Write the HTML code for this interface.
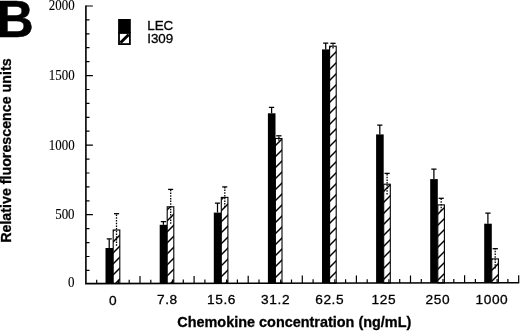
<!DOCTYPE html>
<html><head><meta charset="utf-8"><title>B</title>
<style>html,body{margin:0;padding:0;background:#fff;overflow:hidden}svg{display:block}text{fill:#000;stroke:#000;stroke-width:.3px}.t{stroke-width:.12px}.s{font-family:"Liberation Sans",sans-serif}.t{font-family:"Liberation Serif",serif}</style></head><body>
<svg width="520" height="331" viewBox="0 0 520 331">
<defs><pattern id="h" patternUnits="userSpaceOnUse" width="11" height="11" patternTransform="translate(3,0)"><rect width="11" height="11" fill="#fff"/><path d="M-2,13 L13,-2 M-2,2 L2,-2 M9,13 L13,9" stroke="#000" stroke-width="1.45"/></pattern></defs>
<rect width="520" height="331" fill="#fff" stroke="none"/>
<text class="s" x="-3.5" y="36.9" font-size="51.5" font-weight="bold" style="stroke-width:.5px">B</text>
<text class="s" transform="translate(11.1,242.8) rotate(-90)" font-size="14.2" font-weight="bold" textLength="184.4" lengthAdjust="spacingAndGlyphs">Relative fluorescence units</text>
<text class="s" x="177.3" y="326.8" font-size="14.4" font-weight="bold" textLength="234" lengthAdjust="spacingAndGlyphs">Chemokine concentration (ng/mL)</text>
<path d="M109.2,248.0 V238.4 M106.7,238.8 H111.8" stroke="#000" stroke-width="1.25" fill="none"/>
<rect x="105.5" y="248.0" width="7.6" height="35.5" fill="#000"/>
<rect x="113.2" y="230.0" width="6.6" height="53.5" fill="url(#h)" stroke="#000" stroke-width="1.1"/>
<path d="M116.5,245.8 V213.3" stroke="#000" stroke-width="1.3" stroke-dasharray="1.5 1.2" fill="none"/>
<path d="M114.0,213.7 H119.1" stroke="#000" stroke-width="1.3" fill="none"/>
<path d="M163.4,224.8 V221.3 M160.8,221.7 H166.0" stroke="#000" stroke-width="1.25" fill="none"/>
<rect x="159.7" y="224.8" width="7.6" height="58.6" fill="#000"/>
<rect x="167.2" y="206.8" width="6.6" height="76.6" fill="url(#h)" stroke="#000" stroke-width="1.1"/>
<path d="M170.7,223.7 V189.0" stroke="#000" stroke-width="1.3" stroke-dasharray="1.5 1.2" fill="none"/>
<path d="M168.1,189.4 H173.2" stroke="#000" stroke-width="1.3" fill="none"/>
<path d="M217.5,212.6 V202.7 M214.9,203.1 H220.1" stroke="#000" stroke-width="1.25" fill="none"/>
<rect x="213.8" y="212.6" width="7.6" height="70.7" fill="#000"/>
<rect x="221.3" y="197.4" width="6.6" height="85.9" fill="url(#h)" stroke="#000" stroke-width="1.1"/>
<path d="M224.8,207.3 V186.5" stroke="#000" stroke-width="1.3" stroke-dasharray="1.5 1.2" fill="none"/>
<path d="M222.2,186.9 H227.3" stroke="#000" stroke-width="1.3" fill="none"/>
<path d="M271.6,113.3 V106.9 M268.9,107.3 H274.2" stroke="#000" stroke-width="1.25" fill="none"/>
<rect x="267.9" y="113.3" width="7.6" height="169.9" fill="#000"/>
<rect x="275.4" y="138.5" width="6.6" height="144.7" fill="url(#h)" stroke="#000" stroke-width="1.1"/>
<path d="M278.9,140.7 V135.4" stroke="#000" stroke-width="1.3" stroke-dasharray="1.5 1.2" fill="none"/>
<path d="M276.2,135.8 H281.5" stroke="#000" stroke-width="1.3" fill="none"/>
<path d="M325.7,49.4 V42.6 M323.1,43.0 H328.3" stroke="#000" stroke-width="1.25" fill="none"/>
<rect x="322.0" y="49.4" width="7.6" height="233.7" fill="#000"/>
<rect x="329.6" y="46.2" width="6.6" height="236.9" fill="url(#h)" stroke="#000" stroke-width="1.1"/>
<path d="M333.0,48.5 V42.9" stroke="#000" stroke-width="1.3" stroke-dasharray="1.5 1.2" fill="none"/>
<path d="M330.4,43.3 H335.6" stroke="#000" stroke-width="1.3" fill="none"/>
<path d="M379.8,134.4 V124.8 M377.2,125.2 H382.4" stroke="#000" stroke-width="1.25" fill="none"/>
<rect x="376.1" y="134.4" width="7.6" height="148.6" fill="#000"/>
<rect x="383.7" y="184.2" width="6.6" height="98.8" fill="url(#h)" stroke="#000" stroke-width="1.1"/>
<path d="M387.1,194.4 V173.0" stroke="#000" stroke-width="1.3" stroke-dasharray="1.5 1.2" fill="none"/>
<path d="M384.5,173.4 H389.7" stroke="#000" stroke-width="1.3" fill="none"/>
<path d="M433.9,179.1 V168.7 M431.3,169.1 H436.5" stroke="#000" stroke-width="1.25" fill="none"/>
<rect x="430.2" y="179.1" width="7.6" height="103.7" fill="#000"/>
<rect x="437.8" y="204.9" width="6.6" height="78.0" fill="url(#h)" stroke="#000" stroke-width="1.1"/>
<path d="M441.2,210.9 V197.9" stroke="#000" stroke-width="1.3" stroke-dasharray="1.5 1.2" fill="none"/>
<path d="M438.6,198.3 H443.8" stroke="#000" stroke-width="1.3" fill="none"/>
<path d="M487.9,223.7 V212.7 M485.3,213.1 H490.6" stroke="#000" stroke-width="1.25" fill="none"/>
<rect x="484.2" y="223.7" width="7.6" height="59.1" fill="#000"/>
<rect x="491.8" y="258.9" width="6.6" height="23.8" fill="url(#h)" stroke="#000" stroke-width="1.1"/>
<path d="M495.2,268.5 V248.3" stroke="#000" stroke-width="1.3" stroke-dasharray="1.5 1.2" fill="none"/>
<path d="M492.6,248.7 H497.9" stroke="#000" stroke-width="1.3" fill="none"/>
<path d="M85.9,5.4 V284.4 M85.2,283.6 L519.2,282.7" stroke="#000" stroke-width="1.6" fill="none"/>
<path d="M85.9,270.4 h3.6 M85.9,256.5 h3.6 M85.9,242.6 h3.6 M85.9,228.6 h3.6 M85.9,214.7 h7 M85.9,200.8 h3.6 M85.9,186.9 h3.6 M85.9,173.0 h3.6 M85.9,159.1 h3.6 M85.9,145.2 h7 M85.9,131.2 h3.6 M85.9,117.3 h3.6 M85.9,103.4 h3.6 M85.9,89.5 h3.6 M85.9,75.6 h7 M85.9,61.7 h3.6 M85.9,47.7 h3.6 M85.9,33.8 h3.6 M85.9,19.9 h3.6 M85.9,6.0 h7 M96.7,283.6 v-3.8 M107.5,283.6 v-3.8 M118.4,283.5 v-3.8 M129.2,283.5 v-3.8 M140.0,283.5 v-7.5 M150.8,283.5 v-3.8 M161.6,283.4 v-3.8 M172.5,283.4 v-3.8 M183.3,283.4 v-3.8 M194.1,283.4 v-7.5 M204.9,283.4 v-3.8 M215.7,283.3 v-3.8 M226.6,283.3 v-3.8 M237.4,283.3 v-3.8 M248.2,283.3 v-7.5 M259.0,283.2 v-3.8 M269.8,283.2 v-3.8 M280.7,283.2 v-3.8 M291.5,283.2 v-3.8 M302.3,283.1 v-7.5 M313.1,283.1 v-3.8 M323.9,283.1 v-3.8 M334.8,283.1 v-3.8 M345.6,283.1 v-3.8 M356.4,283.0 v-7.5 M367.2,283.0 v-3.8 M378.0,283.0 v-3.8 M388.9,283.0 v-3.8 M399.7,282.9 v-3.8 M410.5,282.9 v-7.5 M421.3,282.9 v-3.8 M432.1,282.9 v-3.8 M443.0,282.9 v-3.8 M453.8,282.8 v-3.8 M464.6,282.8 v-7.5 M475.4,282.8 v-3.8 M486.2,282.8 v-3.8 M497.1,282.7 v-3.8 M507.9,282.7 v-3.8 M518.7,282.7 v-7.5 " stroke="#000" stroke-width="1.2" fill="none"/>
<text class="t" x="74.6" y="287.1" font-size="14" text-anchor="end" textLength="6.5" lengthAdjust="spacingAndGlyphs">0</text>
<text class="t" x="74.6" y="219.0" font-size="14" text-anchor="end" textLength="19.4" lengthAdjust="spacingAndGlyphs">500</text>
<text class="t" x="74.6" y="149.5" font-size="14" text-anchor="end" textLength="25.8" lengthAdjust="spacingAndGlyphs">1000</text>
<text class="t" x="74.6" y="79.9" font-size="14" text-anchor="end" textLength="25.8" lengthAdjust="spacingAndGlyphs">1500</text>
<text class="t" x="74.6" y="10.3" font-size="14" text-anchor="end" textLength="25.8" lengthAdjust="spacingAndGlyphs">2000</text>
<text class="s" x="113.2" y="304.5" font-size="13.7" letter-spacing="0.6" text-anchor="middle">0</text>
<text class="s" x="167.4" y="304.4" font-size="13.7" letter-spacing="0.6" text-anchor="middle">7.8</text>
<text class="s" x="221.5" y="304.3" font-size="13.7" letter-spacing="0.6" text-anchor="middle">15.6</text>
<text class="s" x="275.6" y="304.2" font-size="13.7" letter-spacing="0.6" text-anchor="middle">31.2</text>
<text class="s" x="329.7" y="304.1" font-size="13.7" letter-spacing="0.6" text-anchor="middle">62.5</text>
<text class="s" x="383.8" y="304.1" font-size="13.7" letter-spacing="0.6" text-anchor="middle">125</text>
<text class="s" x="437.9" y="304.0" font-size="13.7" letter-spacing="0.6" text-anchor="middle">250</text>
<text class="s" x="491.9" y="303.9" font-size="13.7" letter-spacing="0.6" text-anchor="middle">1000</text>
<rect x="118.1" y="19" width="12.7" height="14" fill="#000"/>
<rect x="119" y="33" width="10.9" height="11.1" fill="#fff" stroke="#000" stroke-width="1.8"/>
<path d="M120.5,42.8 L128.8,34.5" stroke="#000" stroke-width="3"/>
<text class="s" x="147.2" y="30.1" font-size="13.4">LEC</text>
<text class="s" x="147.2" y="42.8" font-size="13.4">I309</text>
</svg></body></html>
